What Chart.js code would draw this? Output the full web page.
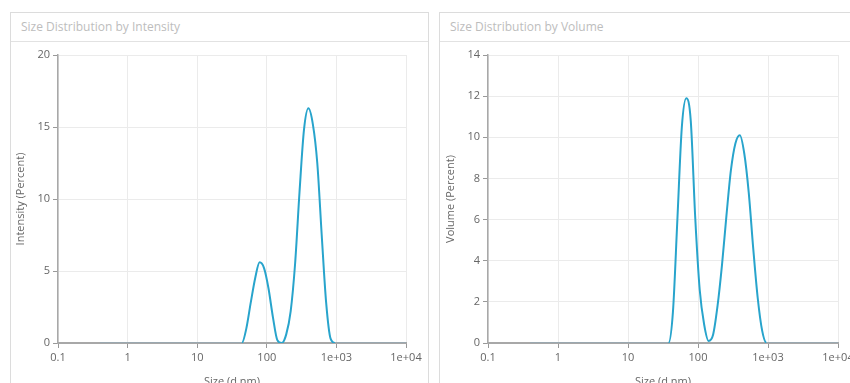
<!DOCTYPE html>
<html>
<head>
<meta charset="utf-8">
<script src="https://cdn.jsdelivr.net/npm/chart.js@4/dist/chart.umd.min.js"></script>
<style>
  body { margin: 0; background: #fff; overflow: hidden; width: 850px; height: 383px; position: relative; font-family: "Open Sans", sans-serif; }
  .panel { position: absolute; top: 12px; height: 390px; border: 1px solid #dcdcdc; box-sizing: border-box; }
  .panel .head { height: 28px; line-height: 28px; border-bottom: 1px solid #e2e2e2; padding-left: 10px; font-size: 12px; color: #bdbdbd; }
  canvas { position: absolute; }
</style>
</head>
<body>
<div class="panel" style="left:10px; width:419px;"><div class="head">Size Distribution by Intensity</div></div>
<div class="panel" style="left:439px; width:420px;"><div class="head">Size Distribution by Volume</div></div>
<canvas id="chartInt" width="418" height="350" style="left:10px; top:42px;"></canvas>
<canvas id="chartVol" width="420" height="350" style="left:440px; top:42px;"></canvas>
<script>
// size classes (d.nm)
var sizes = [0.4, 0.4632, 0.5365, 0.6213, 0.7195, 0.8332, 0.9649, 1.117, 1.294, 1.499,
  1.736, 2.01, 2.328, 2.696, 3.122, 3.615, 4.187, 4.849, 5.615, 6.503,
  7.531, 8.721, 10.1, 11.7, 13.54, 15.69, 18.17, 21.04, 24.36, 28.21,
  32.67, 37.84, 43.82, 50.75, 58.77, 68.06, 78.82, 91.28, 105.7, 122.4,
  141.8, 164.2, 190.1, 220.2, 255.0, 295.3, 342.0, 396.1, 458.7, 531.2,
  615.1, 712.4, 825.0, 955.4, 1106, 1281, 1484, 1718, 1990, 2305,
  2669, 3091, 3580, 4145, 4801, 5560, 6439, 7456, 8635, 10000];

var intensity = [0, 0, 0, 0, 0, 0, 0, 0, 0, 0,
  0, 0, 0, 0, 0, 0, 0, 0, 0, 0,
  0, 0, 0, 0, 0, 0, 0, 0, 0, 0,
  0, 0, 0, 1.0, 2.8, 4.5, 5.6, 5.2, 3.8, 1.8,
  0.2, 0, 0.6, 2.2, 5.5, 10.5, 14.8, 16.3, 15.2, 12.5,
  7.5, 2.8, 0.3, 0, 0, 0, 0, 0, 0, 0,
  0, 0, 0, 0, 0, 0, 0, 0, 0, 0];

var volume = [0, 0, 0, 0, 0, 0, 0, 0, 0, 0,
  0, 0, 0, 0, 0, 0, 0, 0, 0, 0,
  0, 0, 0, 0, 0, 0, 0, 0, 0, 0,
  0, 0, 1.5, 6.0, 10.5, 11.9, 10.8, 6.1, 2.6, 0.9,
  0.1, 0.4, 1.8, 3.8, 6.2, 8.4, 9.7, 10.1, 9.2, 7.3,
  4.6, 2.2, 0.6, 0, 0, 0, 0, 0, 0, 0,
  0, 0, 0, 0, 0, 0, 0, 0, 0, 0];

var xTickValues = [0.1, 1, 10, 100, 1000, 10000];
var xTickLabels = ['0.1', '1', '10', '100', '1e+03', '1e+04'];

function makeChart(id, values, yTitle, yMax, yStep, rightPad) {
  var ctx = document.getElementById(id).getContext('2d');
  var pts = sizes.map(function(s, i) { return { x: s, y: values[i] }; });
  return new Chart(ctx, {
    type: 'line',
    data: {
      datasets: [{
        data: pts,
        borderColor: '#28a4cc',
        borderWidth: 2,
        pointRadius: 0,
        fill: false,
        cubicInterpolationMode: 'monotone',
        // flat stretches on the baseline look grey in the original
        segment: {
          borderColor: function(c) {
            return (c.p0.parsed.y === 0 && c.p1.parsed.y === 0) ? '#9aa8b0' : undefined;
          }
        }
      }]
    },
    options: {
      responsive: false,
      animation: false,
      layout: { padding: { top: 13, right: rightPad, left: 0, bottom: 0 } },
      plugins: { legend: { display: false }, tooltip: { enabled: false } },
      scales: {
        x: {
          type: 'logarithmic',
          min: 0.1,
          max: 10000,
          afterBuildTicks: function(scale) {
            scale.ticks = xTickValues.map(function(v) { return { value: v }; });
          },
          afterFit: function(scale) { scale.height = 49; },
          ticks: {
            autoSkip: false,
            maxRotation: 0,
            color: '#666',
            font: { size: 11, family: 'Open Sans' },
            callback: function(v, i) { return xTickLabels[i]; }
          },
          grid: { color: '#ebebeb', tickColor: '#999', tickLength: 5 },
          border: { color: '#a8a8a8', width: 2 },
          title: { display: true, text: 'Size (d.nm)', color: '#666', font: { size: 11, family: 'Open Sans' } }
        },
        y: {
          min: 0,
          max: yMax,
          afterFit: function(scale) { scale.width = 48; },
          ticks: {
            stepSize: yStep,
            color: '#666',
            font: { size: 11, family: 'Open Sans' }
          },
          grid: { color: '#ebebeb', tickColor: '#999', tickLength: 5 },
          border: { color: '#a8a8a8', width: 1.5 },
          title: { display: true, text: yTitle, color: '#666', font: { size: 11, family: 'Open Sans' } }
        }
      }
    }
  });
}

makeChart('chartInt', intensity, 'Intensity (Percent)', 20, 5, 22);
makeChart('chartVol', volume, 'Volume (Percent)', 14, 2, 22);
</script>
</body>
</html>
